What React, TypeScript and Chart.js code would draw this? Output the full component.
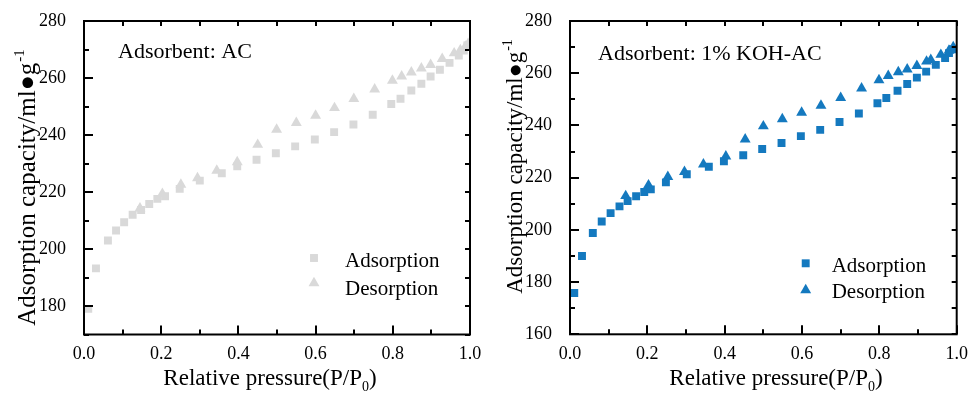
import React, { useEffect, useRef } from 'react';
import { Chart, registerables } from 'chart.js';

Chart.register(...registerables);

// ---------- DATA ----------
const xLabelTicks = [0, 0.2, 0.4, 0.6, 0.8, 1.0];
const xAllTicks = [0, 0.1, 0.2, 0.3, 0.4, 0.5, 0.6, 0.7, 0.8, 0.9, 1.0];

// Left panel: Adsorbent AC
const acYLabelTicks = [180, 200, 220, 240, 260, 280];
const acYAllTicks = [170, 180, 190, 200, 210, 220, 230, 240, 250, 260, 270, 280];
const acAdsP = [0.011, 0.031, 0.062, 0.083, 0.104, 0.126, 0.148, 0.169, 0.19, 0.21, 0.248, 0.3, 0.357, 0.397, 0.447, 0.497, 0.547, 0.598, 0.648, 0.698, 0.748, 0.796, 0.82, 0.848, 0.874, 0.898, 0.922, 0.947, 0.971, 0.984, 0.993];
const acAdsV = [179.0, 193.2, 203.0, 206.5, 209.4, 212.0, 213.7, 215.8, 217.6, 218.5, 221.1, 224.0, 226.6, 229.0, 231.3, 233.6, 236.0, 238.4, 241.0, 243.7, 247.1, 250.9, 252.7, 255.6, 258.0, 260.5, 262.9, 265.3, 267.9, 269.6, 271.4];
const acDesP = [0.995, 0.988, 0.975, 0.959, 0.928, 0.898, 0.874, 0.848, 0.823, 0.799, 0.753, 0.699, 0.649, 0.6, 0.55, 0.499, 0.45, 0.397, 0.344, 0.294, 0.251, 0.203, 0.145];
const acDesV = [272.0, 271.0, 269.8, 268.7, 266.7, 264.6, 263.4, 262.0, 260.6, 259.1, 256.0, 252.7, 249.5, 246.8, 244.3, 241.9, 236.6, 230.5, 227.5, 224.9, 222.6, 219.4, 214.3];

// Right panel: Adsorbent 1% KOH-AC
const kohYLabelTicks = [160, 180, 200, 220, 240, 260, 280];
const kohYAllTicks = [160, 170, 180, 190, 200, 210, 220, 230, 240, 250, 260, 270, 280];
const kohAdsP = [0.011, 0.031, 0.059, 0.082, 0.105, 0.128, 0.149, 0.171, 0.192, 0.209, 0.248, 0.302, 0.359, 0.398, 0.448, 0.497, 0.547, 0.597, 0.647, 0.697, 0.747, 0.795, 0.818, 0.847, 0.872, 0.897, 0.921, 0.946, 0.97, 0.98, 0.99];
const kohAdsV = [175.8, 190.0, 198.8, 203.2, 206.4, 209.0, 211.0, 212.9, 214.5, 215.5, 218.2, 221.3, 224.2, 226.3, 228.6, 231.0, 233.3, 235.9, 238.3, 241.3, 244.6, 248.5, 250.5, 253.3, 255.9, 258.3, 260.6, 263.2, 265.8, 267.7, 269.2];
const kohDesP = [0.991, 0.98, 0.959, 0.933, 0.922, 0.897, 0.872, 0.849, 0.823, 0.799, 0.754, 0.7, 0.649, 0.599, 0.549, 0.5, 0.453, 0.403, 0.345, 0.296, 0.253, 0.203, 0.144];
const kohDesV = [270.0, 268.7, 267.1, 265.1, 264.5, 262.8, 261.5, 260.4, 259.0, 257.4, 254.2, 250.6, 247.6, 244.9, 242.4, 239.7, 234.7, 228.2, 225.1, 222.2, 220.3, 217.1, 213.0];

const seriesNames = ['Adsorption', 'Desorption'];
const panelTitles = ['Adsorbent: AC', 'Adsorbent: 1% KOH-AC'];

// ---------- STYLE ----------
const FONT = "'Liberation Serif', 'Times New Roman', serif";

function drawMarker(ctx: CanvasRenderingContext2D, style: string, x: number, y: number, r: number, color: string) {
  ctx.fillStyle = color;
  ctx.beginPath();
  if (style === 'rect') {
    const s = Math.SQRT1_2 * r;
    ctx.rect(x - s, y - s, 2 * s, 2 * s);
  } else {
    for (let k = 0; k < 3; k++) {
      const a = (k * 2 * Math.PI) / 3;
      const px = x + Math.sin(a) * r;
      const py = y - Math.cos(a) * r;
      if (k === 0) ctx.moveTo(px, py);
      else ctx.lineTo(px, py);
    }
    ctx.closePath();
  }
  ctx.fill();
}

type Layout = {
  canvasW: number;
  yAxisW: number;
  xAxisH: number;
  padRight: number;
  padTop: number;
  annX: number;
  annY: number;
  legMarkX: number;
  legMarkY: number[];
  legTextX: number;
  legTextY: number[];
  xTitleCX: number;
  xTitleY: number;
  yTitleX: number;
  yTitleCY: number;
  yTitleSize: number;
};

type Panel = {
  adsP: number[];
  adsV: number[];
  desP: number[];
  desV: number[];
  yLabelTicks: number[];
  yAllTicks: number[];
  color: string;
  title: string;
};

function buildChart(canvas: HTMLCanvasElement, p: Panel, L: Layout) {
  const yMin = p.yAllTicks[0];
  const yMax = p.yAllTicks[p.yAllTicks.length - 1];
  const rAds = 5.6;
  const rDes = 6.3;

  const decor = {
    id: 'decor',
    afterDraw(chart: any) {
      const ctx: CanvasRenderingContext2D = chart.ctx;
      const { left, right, top, bottom } = chart.chartArea;
      const xs = chart.scales.x;
      const ys = chart.scales.y;
      ctx.save();
      ctx.strokeStyle = '#000';
      ctx.lineWidth = 2;
      ctx.strokeRect(left, top, right - left, bottom - top);
      ctx.beginPath();
      xAllTicks.forEach((v) => {
        const px = Math.round(xs.getPixelForValue(v));
        const major = xLabelTicks.some((t) => Math.abs(t - v) < 1e-9);
        ctx.moveTo(px, bottom);
        ctx.lineTo(px, bottom - (major ? 9 : 5));
        ctx.moveTo(px, top);
        ctx.lineTo(px, top + 5);
      });
      p.yAllTicks.forEach((v) => {
        const py = Math.round(ys.getPixelForValue(v));
        const major = p.yLabelTicks.includes(v);
        ctx.moveTo(left, py);
        ctx.lineTo(left + (major ? 9 : 5), py);
        ctx.moveTo(right, py);
        ctx.lineTo(right - 5, py);
      });
      ctx.stroke();

      // annotation
      ctx.fillStyle = '#000';
      ctx.textBaseline = 'alphabetic';
      ctx.textAlign = 'left';
      ctx.font = `22px ${FONT}`;
      ctx.fillText(p.title, L.annX, L.annY);

      // legend
      ctx.font = `21px ${FONT}`;
      const ds = chart.data.datasets;
      ds.forEach((d: any, i: number) => {
        drawMarker(ctx, d.pointStyle, L.legMarkX, L.legMarkY[i], d.pointRadius, d.backgroundColor);
        ctx.fillStyle = '#000';
        ctx.fillText(d.label, L.legTextX, L.legTextY[i]);
      });

      // x title with subscript
      const fs = 23;
      ctx.font = `${fs}px ${FONT}`;
      const a = 'Relative pressure(P/P';
      const b = '0';
      const c = ')';
      const wa = ctx.measureText(a).width;
      const wc = ctx.measureText(c).width;
      ctx.font = `${Math.round(fs * 0.62)}px ${FONT}`;
      const wb = ctx.measureText(b).width;
      const total = wa + wb + wc;
      const x0 = L.xTitleCX - total / 2;
      ctx.font = `${fs}px ${FONT}`;
      ctx.fillText(a, x0, L.xTitleY);
      ctx.font = `${Math.round(fs * 0.62)}px ${FONT}`;
      ctx.fillText(b, x0 + wa, L.xTitleY + 6);
      ctx.font = `${fs}px ${FONT}`;
      ctx.fillText(c, x0 + wa + wb, L.xTitleY);

      // y title with superscript
      const ys2 = L.yTitleSize;
      ctx.translate(L.yTitleX, L.yTitleCY);
      ctx.rotate(-Math.PI / 2);
      ctx.font = `${ys2}px ${FONT}`;
      const m = 'Adsorption capacity/ml\u25CFg';
      const sup = '-1';
      const wm = ctx.measureText(m).width;
      ctx.font = `${Math.round(ys2 * 0.6)}px ${FONT}`;
      const ws = ctx.measureText(sup).width;
      const tot = wm + ws;
      ctx.font = `${ys2}px ${FONT}`;
      ctx.fillText(m, -tot / 2, 0);
      ctx.font = `${Math.round(ys2 * 0.6)}px ${FONT}`;
      ctx.fillText(sup, -tot / 2 + wm + 1, -ys2 * 0.45);
      ctx.restore();
    },
  };

  return new Chart(canvas, {
    type: 'scatter',
    data: {
      datasets: [
        {
          label: seriesNames[0],
          data: p.adsP.map((x, i) => ({ x, y: p.adsV[i] })),
          pointStyle: 'rect',
          pointRadius: rAds,
          backgroundColor: p.color,
          borderColor: p.color,
          borderWidth: 0,
          showLine: false,
        },
        {
          label: seriesNames[1],
          data: p.desP.map((x, i) => ({ x, y: p.desV[i] })),
          pointStyle: 'triangle',
          pointRadius: rDes,
          backgroundColor: p.color,
          borderColor: p.color,
          borderWidth: 0,
          showLine: false,
        },
      ],
    },
    options: {
      responsive: false,
      animation: false,
      events: [],
      layout: { padding: { top: L.padTop, right: L.padRight, left: 0, bottom: 0 } },
      plugins: { legend: { display: false }, tooltip: { enabled: false }, title: { display: false } },
      scales: {
        x: {
          type: 'linear',
          min: 0,
          max: 1,
          grid: { display: false },
          border: { display: false },
          afterBuildTicks: (s: any) => {
            s.ticks = xLabelTicks.map((v) => ({ value: v }));
          },
          afterFit: (s: any) => {
            s.height = L.xAxisH;
          },
          ticks: {
            autoSkip: false,
            maxRotation: 0,
            padding: 1,
            color: '#000',
            font: { family: FONT, size: 18 },
            callback: (v: any) => Number(v).toFixed(1),
          },
        },
        y: {
          type: 'linear',
          min: yMin,
          max: yMax,
          grid: { display: false },
          border: { display: false },
          afterBuildTicks: (s: any) => {
            s.ticks = p.yLabelTicks.map((v) => ({ value: v }));
          },
          afterFit: (s: any) => {
            s.width = L.yAxisW;
          },
          ticks: {
            autoSkip: false,
            padding: 10,
            color: '#000',
            font: { family: FONT, size: 18 },
            callback: (v: any) => String(v),
          },
        },
      },
    },
    plugins: [decor],
  } as any);
}

const leftLayout: Layout = {
  canvasW: 490,
  yAxisW: 84,
  xAxisH: 61.5,
  padRight: 20,
  padTop: 21,
  annX: 118,
  annY: 58,
  legMarkX: 314,
  legMarkY: [258, 283],
  legTextX: 345,
  legTextY: [267, 295],
  xTitleCX: 270,
  xTitleY: 385,
  yTitleX: 35,
  yTitleCY: 188,
  yTitleSize: 25,
};

const rightLayout: Layout = {
  canvasW: 489,
  yAxisW: 80,
  xAxisH: 61.7,
  padRight: 22.3,
  padTop: 21,
  annX: 108,
  annY: 60,
  legMarkX: 315.7,
  legMarkY: [263.3, 290],
  legTextX: 341.7,
  legTextY: [272, 298],
  xTitleCX: 286,
  xTitleY: 385,
  yTitleX: 32,
  yTitleCY: 167,
  yTitleSize: 23,
};

const leftPanel: Panel = {
  adsP: acAdsP,
  adsV: acAdsV,
  desP: acDesP,
  desV: acDesV,
  yLabelTicks: acYLabelTicks,
  yAllTicks: acYAllTicks,
  color: '#d9d9d9',
  title: panelTitles[0],
};

const rightPanel: Panel = {
  adsP: kohAdsP,
  adsV: kohAdsV,
  desP: kohDesP,
  desV: kohDesV,
  yLabelTicks: kohYLabelTicks,
  yAllTicks: kohYAllTicks,
  color: '#1479bf',
  title: panelTitles[1],
};

function ChartPanel({ panel, layout, left }: { panel: Panel; layout: Layout; left: number }) {
  const ref = useRef<HTMLCanvasElement>(null);
  useEffect(() => {
    if (!ref.current) return;
    const chart = buildChart(ref.current, panel, layout);
    return () => chart.destroy();
  }, []);
  return (
    <canvas
      ref={ref}
      width={layout.canvasW}
      height={396}
      style={{ position: 'absolute', left, top: 0, width: layout.canvasW, height: 396 }}
    />
  );
}

export default function App() {
  return (
    <div style={{ position: 'absolute', left: 0, top: 0, width: 979, height: 396, background: '#fff' }}>
      <ChartPanel panel={leftPanel} layout={leftLayout} left={0} />
      <ChartPanel panel={rightPanel} layout={rightLayout} left={490} />
    </div>
  );
}
